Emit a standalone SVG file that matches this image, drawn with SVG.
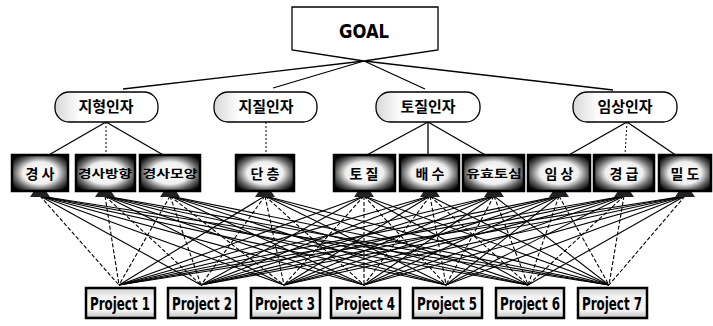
<svg xmlns="http://www.w3.org/2000/svg" width="713" height="326" viewBox="0 0 713 326">
<defs>
<radialGradient id="sg" cx="50%" cy="50%" r="62%">
<stop offset="0" stop-color="#fff"/>
<stop offset="0.5" stop-color="#eee"/>
<stop offset="0.75" stop-color="#666"/>
<stop offset="1" stop-color="#000"/>
</radialGradient>
<linearGradient id="fg" x1="0" y1="0" x2="1" y2="0">
<stop offset="0" stop-color="#d8d8d8"/>
<stop offset="0.25" stop-color="#fff"/>
<stop offset="1" stop-color="#fff"/>
</linearGradient>
<linearGradient id="pg" x1="0" y1="0" x2="0" y2="1">
<stop offset="0" stop-color="#cfcfcf"/>
<stop offset="0.3" stop-color="#f4f4f4"/>
<stop offset="0.75" stop-color="#f4f4f4"/>
<stop offset="1" stop-color="#bdbdbd"/>
</linearGradient>
</defs>
<style>
.kt{font-family:"Noto Sans CJK KR","Noto Sans",sans-serif;font-weight:bold;fill:#000;text-anchor:middle}
.f{font-size:15px}
.s{font-size:14px}
.et{font-family:"DejaVu Sans Condensed","DejaVu Sans",sans-serif;font-weight:bold;fill:#000;text-anchor:middle;font-stretch:condensed}
.fac{fill:url(#fg);stroke:#000;stroke-width:1.3}
.sub{fill:url(#sg);stroke:#000;stroke-width:2.5}
.stand{fill:#222}
.prj{fill:url(#pg);stroke:#000;stroke-width:2.5}
.c line{stroke:#000;stroke-width:1.1;fill:none}
.c .d{stroke-dasharray:4 2}
.t line{stroke:#000;stroke-width:1.3}
.t .d{stroke-dasharray:2 2;stroke-width:1}
</style>

<g id="connectors">
<g class="t">
<line x1="364" y1="61" x2="123" y2="89"/>
<line x1="364" y1="61" x2="273" y2="88"/>
<line x1="364" y1="61" x2="425" y2="89"/>
<line x1="364" y1="61" x2="613" y2="90"/>
<line x1="106" y1="122" x2="47" y2="156"/>
<line class="d" x1="106" y1="122" x2="106" y2="155"/>
<line x1="106" y1="122" x2="165" y2="156"/>
<line class="d" x1="266" y1="122" x2="266" y2="155"/>
<line x1="428" y1="122" x2="365" y2="156"/>
<line x1="428" y1="122" x2="428" y2="155"/>
<line x1="428" y1="122" x2="487" y2="156"/>
<line x1="627" y1="122" x2="567" y2="156"/>
<line class="d" x1="627" y1="122" x2="625" y2="155"/>
<line x1="627" y1="122" x2="677" y2="156"/>
</g>
<g class="c">
<line class="d" x1="40" y1="196" x2="119" y2="285"/>
<line x1="40" y1="196" x2="201" y2="285"/>
<line x1="40" y1="196" x2="284" y2="285"/>
<line x1="40" y1="196" x2="364" y2="285"/>
<line x1="40" y1="196" x2="446" y2="285"/>
<line x1="40" y1="196" x2="528" y2="285"/>
<line x1="40" y1="196" x2="609" y2="285"/>
<line class="d" x1="105" y1="196" x2="119" y2="285"/>
<line class="d" x1="105" y1="196" x2="201" y2="285"/>
<line x1="105" y1="196" x2="284" y2="285"/>
<line x1="105" y1="196" x2="364" y2="285"/>
<line x1="105" y1="196" x2="446" y2="285"/>
<line x1="105" y1="196" x2="528" y2="285"/>
<line x1="105" y1="196" x2="609" y2="285"/>
<line class="d" x1="170" y1="196" x2="119" y2="285"/>
<line class="d" x1="170" y1="196" x2="201" y2="285"/>
<line class="d" x1="170" y1="196" x2="284" y2="285"/>
<line x1="170" y1="196" x2="364" y2="285"/>
<line x1="170" y1="196" x2="446" y2="285"/>
<line x1="170" y1="196" x2="528" y2="285"/>
<line x1="170" y1="196" x2="609" y2="285"/>
<line x1="265" y1="196" x2="119" y2="285"/>
<line class="d" x1="265" y1="196" x2="201" y2="285"/>
<line class="d" x1="265" y1="196" x2="284" y2="285"/>
<line class="d" x1="265" y1="196" x2="364" y2="285"/>
<line x1="265" y1="196" x2="446" y2="285"/>
<line x1="265" y1="196" x2="528" y2="285"/>
<line x1="265" y1="196" x2="609" y2="285"/>
<line x1="364" y1="196" x2="119" y2="285"/>
<line x1="364" y1="196" x2="201" y2="285"/>
<line class="d" x1="364" y1="196" x2="284" y2="285"/>
<line class="d" x1="364" y1="196" x2="364" y2="285"/>
<line class="d" x1="364" y1="196" x2="446" y2="285"/>
<line x1="364" y1="196" x2="528" y2="285"/>
<line x1="364" y1="196" x2="609" y2="285"/>
<line x1="430" y1="196" x2="119" y2="285"/>
<line x1="430" y1="196" x2="201" y2="285"/>
<line x1="430" y1="196" x2="284" y2="285"/>
<line class="d" x1="430" y1="196" x2="364" y2="285"/>
<line class="d" x1="430" y1="196" x2="446" y2="285"/>
<line class="d" x1="430" y1="196" x2="528" y2="285"/>
<line x1="430" y1="196" x2="609" y2="285"/>
<line x1="494" y1="196" x2="119" y2="285"/>
<line x1="494" y1="196" x2="201" y2="285"/>
<line x1="494" y1="196" x2="284" y2="285"/>
<line x1="494" y1="196" x2="364" y2="285"/>
<line class="d" x1="494" y1="196" x2="446" y2="285"/>
<line class="d" x1="494" y1="196" x2="528" y2="285"/>
<line x1="494" y1="196" x2="609" y2="285"/>
<line x1="559" y1="196" x2="119" y2="285"/>
<line x1="559" y1="196" x2="201" y2="285"/>
<line x1="559" y1="196" x2="284" y2="285"/>
<line x1="559" y1="196" x2="364" y2="285"/>
<line x1="559" y1="196" x2="446" y2="285"/>
<line class="d" x1="559" y1="196" x2="528" y2="285"/>
<line class="d" x1="559" y1="196" x2="609" y2="285"/>
<line x1="624" y1="196" x2="119" y2="285"/>
<line x1="624" y1="196" x2="201" y2="285"/>
<line x1="624" y1="196" x2="284" y2="285"/>
<line x1="624" y1="196" x2="364" y2="285"/>
<line x1="624" y1="196" x2="446" y2="285"/>
<line class="d" x1="624" y1="196" x2="528" y2="285"/>
<line class="d" x1="624" y1="196" x2="609" y2="285"/>
<line x1="685" y1="196" x2="119" y2="285"/>
<line x1="685" y1="196" x2="201" y2="285"/>
<line x1="685" y1="196" x2="284" y2="285"/>
<line x1="685" y1="196" x2="364" y2="285"/>
<line x1="685" y1="196" x2="446" y2="285"/>
<line x1="685" y1="196" x2="528" y2="285"/>
<line class="d" x1="685" y1="196" x2="609" y2="285"/>
</g>
</g>

<g id="goal">
<polygon points="292,7 438,7 438,50 364,61 292,50" fill="#fff" stroke="#000" stroke-width="1.3"/>
<text class="et" x="364" y="38" font-size="20" textLength="50" lengthAdjust="spacingAndGlyphs">GOAL</text>
</g>

<g id="f1"><rect class="fac" x="55" y="92" width="103" height="30" rx="14"/><text class="kt f" x="106" y="112">지형인자</text></g>
<g id="f2"><rect class="fac" x="214" y="92" width="103" height="30" rx="14"/><text class="kt f" x="266" y="112">지질인자</text></g>
<g id="f3"><rect class="fac" x="376" y="92" width="104" height="30" rx="14"/><text class="kt f" x="428" y="112">토질인자</text></g>
<g id="f4"><rect class="fac" x="573" y="92" width="104" height="30" rx="14"/><text class="kt f" x="625" y="112">임상인자</text></g>

<g id="s1"><polygon class="stand" points="34,191 46,191 50,197 30,197"/><rect class="sub" x="12" y="155" width="56" height="36"/><text class="kt s" x="40" y="179">경 사</text></g>
<g id="s2"><polygon class="stand" points="99,191 111,191 115,197 95,197"/><rect class="sub" x="76" y="155" width="59" height="36"/><text class="kt" x="105" y="178" font-size="11" textLength="54" lengthAdjust="spacingAndGlyphs">경사방향</text></g>
<g id="s3"><polygon class="stand" points="164,191 176,191 180,197 160,197"/><rect class="sub" x="140" y="155" width="60" height="36"/><text class="kt" x="170" y="178" font-size="11" textLength="55" lengthAdjust="spacingAndGlyphs">경사모양</text></g>
<g id="s4"><polygon class="stand" points="259,191 271,191 275,197 255,197"/><rect class="sub" x="236" y="155" width="58" height="36"/><text class="kt s" x="265" y="179">단 층</text></g>
<g id="s5"><polygon class="stand" points="358,191 370,191 374,197 354,197"/><rect class="sub" x="334" y="155" width="61" height="36"/><text class="kt s" x="364" y="179">토 질</text></g>
<g id="s6"><polygon class="stand" points="424,191 436,191 440,197 420,197"/><rect class="sub" x="400" y="155" width="59" height="36"/><text class="kt s" x="430" y="179">배 수</text></g>
<g id="s7"><polygon class="stand" points="488,191 500,191 504,197 484,197"/><rect class="sub" x="463" y="155" width="61" height="36"/><text class="kt" x="494" y="178" font-size="11" textLength="56" lengthAdjust="spacingAndGlyphs">유효토심</text></g>
<g id="s8"><polygon class="stand" points="553,191 565,191 569,197 549,197"/><rect class="sub" x="528" y="155" width="62" height="36"/><text class="kt s" x="559" y="179">임 상</text></g>
<g id="s9"><polygon class="stand" points="618,191 630,191 634,197 614,197"/><rect class="sub" x="594" y="155" width="60" height="36"/><text class="kt s" x="624" y="179">경 급</text></g>
<g id="s10"><polygon class="stand" points="679,191 691,191 695,197 675,197"/><rect class="sub" x="659" y="155" width="52" height="36"/><text class="kt s" x="685" y="179">밀 도</text></g>

<g id="p1"><rect class="prj" x="86" y="288" width="69" height="30"/><text class="et" x="120" y="310" font-size="18" textLength="60" lengthAdjust="spacingAndGlyphs">Project 1</text></g>
<g id="p2"><rect class="prj" x="168" y="288" width="68" height="30"/><text class="et" x="202" y="310" font-size="18" textLength="60" lengthAdjust="spacingAndGlyphs">Project 2</text></g>
<g id="p3"><rect class="prj" x="251" y="288" width="69" height="30"/><text class="et" x="285" y="310" font-size="18" textLength="60" lengthAdjust="spacingAndGlyphs">Project 3</text></g>
<g id="p4"><rect class="prj" x="331" y="288" width="69" height="30"/><text class="et" x="365" y="310" font-size="18" textLength="60" lengthAdjust="spacingAndGlyphs">Project 4</text></g>
<g id="p5"><rect class="prj" x="413" y="288" width="69" height="30"/><text class="et" x="447" y="310" font-size="18" textLength="60" lengthAdjust="spacingAndGlyphs">Project 5</text></g>
<g id="p6"><rect class="prj" x="496" y="288" width="68" height="30"/><text class="et" x="530" y="310" font-size="18" textLength="60" lengthAdjust="spacingAndGlyphs">Project 6</text></g>
<g id="p7"><rect class="prj" x="578" y="288" width="69" height="30"/><text class="et" x="612" y="310" font-size="18" textLength="60" lengthAdjust="spacingAndGlyphs">Project 7</text></g>
</svg>
